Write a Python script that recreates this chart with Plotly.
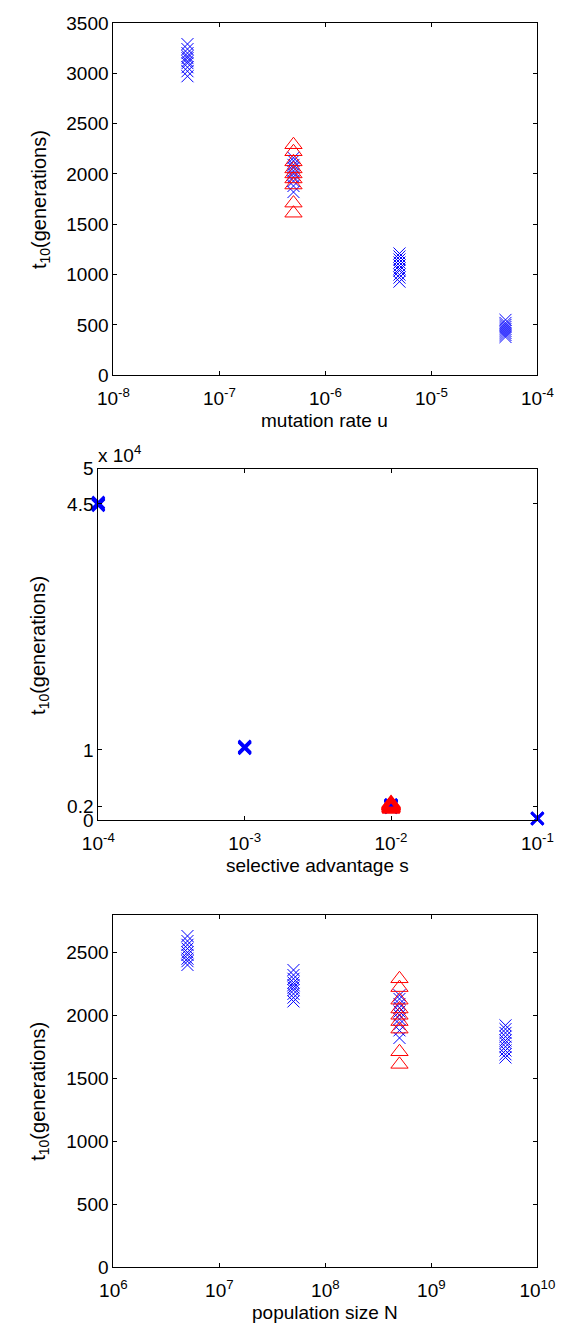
import plotly.graph_objects as go

# ---------------- data ----------------
# Panel 1: t10 vs mutation rate u
u_values = [5e-8, 5e-7, 5e-6, 5e-5]
t10_u_5e8 = [3290, 3240, 3200, 3170, 3150, 3120, 3100, 3060, 3020, 2970]
t10_base_blue = [2160, 2130, 2090, 2060, 2030, 2000, 1970, 1930, 1880, 1820]
t10_u_5e6 = [1210, 1180, 1150, 1120, 1090, 1060, 1040, 1000, 970, 930]
t10_u_5e5 = [550, 520, 500, 480, 460, 440, 420, 400, 380]
t10_base_red = [2290, 2220, 2120, 2050, 2000, 1950, 1890, 1710, 1610]

# Panel 2: t10 vs selective advantage s
s_values = [1e-4, 1e-3, 1e-2, 1e-1]
t10_s_1e4 = [45200, 45000, 44900, 44800]
t10_s_1e3 = [10500, 10400, 10300, 10200]
t10_s_1e1 = [300, 250, 220, 180]

# Panel 3: t10 vs population size N
N_values = [5e6, 5e7, 5e8, 5e9]
t10_N_5e6 = [2630, 2590, 2560, 2530, 2500, 2480, 2450, 2430, 2400]
t10_N_5e7 = [2360, 2320, 2290, 2260, 2240, 2220, 2200, 2170, 2140, 2110]
t10_N_5e9 = [1920, 1890, 1860, 1830, 1800, 1780, 1750, 1720, 1690, 1665]

u_ticks = [1e-8, 1e-7, 1e-6, 1e-5, 1e-4]
u_ticktext = ["10<sup>-8</sup>", "10<sup>-7</sup>", "10<sup>-6</sup>", "10<sup>-5</sup>", "10<sup>-4</sup>"]
s_ticks = [1e-4, 1e-3, 1e-2, 1e-1]
s_ticktext = ["10<sup>-4</sup>", "10<sup>-3</sup>", "10<sup>-2</sup>", "10<sup>-1</sup>"]
N_ticks = [1e6, 1e7, 1e8, 1e9, 1e10]
N_ticktext = ["10<sup>6</sup>", "10<sup>7</sup>", "10<sup>8</sup>", "10<sup>9</sup>", "10<sup>10</sup>"]
y1_ticks = [0, 500, 1000, 1500, 2000, 2500, 3000, 3500]
y2_ticks = [0, 2000, 10000, 45000, 50000]
y2_ticktext = ["0", "0.2", "1", "4.5", "5"]
y3_ticks = [0, 500, 1000, 1500, 2000, 2500]

# ---------------- geometry ----------------
OFF = 8  # default body margin of the page
W = 578 - OFF
H = 1338 - OFF
EPS = 0.0004


def px(x):
    return (x - OFF) / W


def py(y):
    return 1 - (y - OFF) / H


BLUE = "rgb(0,0,255)"
RED = "rgb(255,0,0)"
FONT = "Liberation Sans, Arial, sans-serif"
FS = 19

fig = go.Figure()


def add_group(xv, yv, symbol, color, size, lw, xa, ya):
    fig.add_trace(go.Scatter(
        x=[xv] * len(yv), y=yv, mode="markers", xaxis=xa, yaxis=ya,
        cliponaxis=False, showlegend=False,
        marker=dict(symbol=symbol, size=size, color=color,
                    line=dict(color=color, width=lw)),
    ))


# panel 1
add_group(u_values[0], t10_u_5e8, "x-thin", BLUE, 12, 1, "x", "y")
add_group(u_values[1], t10_base_blue, "x-thin", BLUE, 12, 1, "x", "y")
add_group(u_values[2], t10_u_5e6, "x-thin", BLUE, 12, 1, "x", "y")
add_group(u_values[3], t10_u_5e5, "x-thin", BLUE, 12, 1, "x", "y")
add_group(u_values[1], t10_base_red, "triangle-up-open", RED, 15, 1, "x", "y")

# panel 2
add_group(s_values[0], t10_s_1e4, "x-thin", BLUE, 12, 2.5, "x2", "y2")
add_group(s_values[1], t10_s_1e3, "x-thin", BLUE, 12, 2.5, "x2", "y2")
add_group(s_values[2], t10_base_blue, "x-thin", BLUE, 12, 2.5, "x2", "y2")
add_group(s_values[3], t10_s_1e1, "x-thin", BLUE, 12, 2.5, "x2", "y2")
add_group(s_values[2], t10_base_red, "triangle-up-open", RED, 15, 2.5, "x2", "y2")

# panel 3
add_group(N_values[0], t10_N_5e6, "x-thin", BLUE, 12, 1, "x3", "y3")
add_group(N_values[1], t10_N_5e7, "x-thin", BLUE, 12, 1, "x3", "y3")
add_group(N_values[2], t10_base_blue, "x-thin", BLUE, 12, 1, "x3", "y3")
add_group(N_values[3], t10_N_5e9, "x-thin", BLUE, 12, 1, "x3", "y3")
add_group(N_values[2], t10_base_red, "triangle-up-open", RED, 15, 1, "x3", "y3")

axis_common = dict(
    showline=True, linecolor="black", linewidth=1, mirror="ticks",
    ticks="inside", ticklen=4, tickcolor="black", tickwidth=1,
    showgrid=False, zeroline=False,
    tickfont=dict(family=FONT, size=FS, color="black"),
)
xaxis_common = dict(type="log", ticklabelstandoff=6, **axis_common)

fig.update_layout(
    width=W, height=H,
    margin=dict(l=0, r=0, t=0, b=0),
    paper_bgcolor="white", plot_bgcolor="white",
    font=dict(family=FONT, size=FS, color="black"),
    xaxis=dict(range=[-8 - EPS, -4 + EPS], domain=[px(103), px(554)], anchor="y",
               tickvals=u_ticks, ticktext=u_ticktext, **xaxis_common),
    yaxis=dict(range=[0, 3500], domain=[py(371), py(13)], anchor="x",
               tickvals=y1_ticks, **axis_common),
    xaxis2=dict(range=[-4 - EPS, -1 + EPS], domain=[px(87), px(554)], anchor="y2",
                tickvals=s_ticks, ticktext=s_ticktext, **xaxis_common),
    yaxis2=dict(range=[0, 50000], domain=[py(823), py(466)], anchor="x2",
                tickvals=y2_ticks, ticktext=y2_ticktext, **axis_common),
    xaxis3=dict(range=[6 - EPS, 10 + EPS], domain=[px(103), px(554)], anchor="y3",
                tickvals=N_ticks, ticktext=N_ticktext, **xaxis_common),
    yaxis3=dict(range=[0, 2800], domain=[py(1277), py(919)], anchor="x3",
                tickvals=y3_ticks, **axis_common),
)

ann_font = dict(family=FONT, size=FS, color="black")
ytitle_font = dict(family=FONT, size=20, color="black")
annotations = [
    dict(text="t<sub>10</sub>(generations)", x=px(25), y=py(192), textangle=-90, font=ytitle_font),
    dict(text="t<sub>10</sub>(generations)", x=px(25), y=py(645), textangle=-90, font=ytitle_font),
    dict(text="t<sub>10</sub>(generations)", x=px(25), y=py(1098), textangle=-90, font=ytitle_font),
    dict(text="mutation rate u", x=px(328), y=py(417), font=ann_font),
    dict(text="selective advantage s", x=px(320), y=py(869), font=ann_font),
    dict(text="population size N", x=px(328), y=py(1323), font=ann_font),
]
for a in annotations:
    fig.add_annotation(xref="paper", yref="paper", showarrow=False,
                       xanchor="center", yanchor="middle", **a)
fig.add_annotation(text="x 10<sup>4</sup>", xref="paper", yref="paper",
                   x=px(85), y=py(451), xanchor="left", yanchor="middle",
                   showarrow=False, font=ann_font)

fig.write_html("out.html")
